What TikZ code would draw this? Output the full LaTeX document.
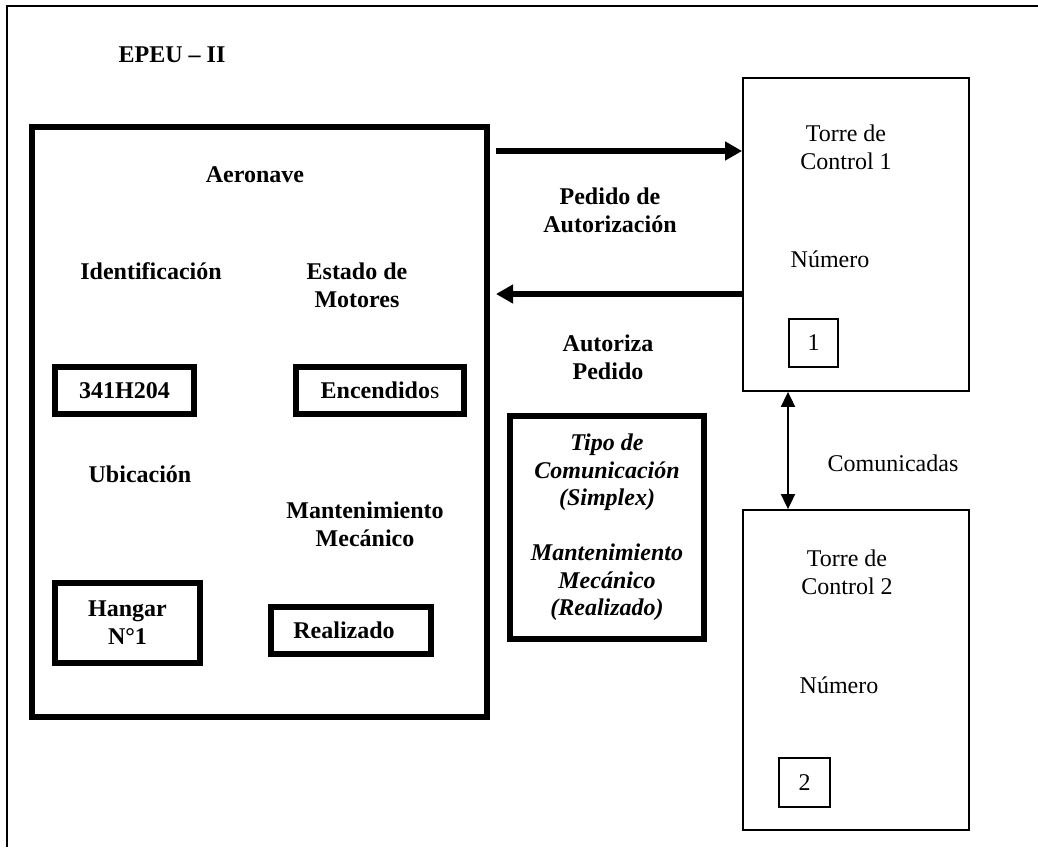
\documentclass[tikz,border=0pt]{standalone}
\usepackage{fontspec}
\setmainfont{Liberation Serif}
\usetikzlibrary{arrows.meta}

\begin{document}
\begin{tikzpicture}[x=0.5pt,y=-0.5pt,
    txt/.style={font=\fontsize{12}{14}\selectfont, align=center, inner sep=0pt},
    btxt/.style={txt, font=\fontsize{12}{14}\selectfont\bfseries},
    thickbox/.style={draw, line width=2.8pt, btxt},
    thinbox/.style={draw, line width=0.9pt, txt},
    numbox/.style={draw, line width=0.8pt, txt, minimum width=24.5pt, minimum height=24pt},
    bigarrow/.style={line width=2.6pt, -{Triangle[length=8.5pt,width=9pt]}},
    thinarrow/.style={line width=0.9pt, {Triangle[length=7.5pt,width=7pt]}-{Triangle[length=7.5pt,width=7pt]}}]
                \useasboundingbox (0,0) rectangle (1038,847);
                \draw[line width=1pt] (1038,6) -- (7,6) -- (7,847);

                \node[btxt] (epeu) at (172,55) {EPEU -- II};

                \node[thickbox, minimum width=227.5pt, minimum height=295pt] (aero) at (259.5,422) {};
                \node[btxt] (aerot) at (255,175) {Aeronave};
                \node[btxt] (ident) at (151,271) {Identificación};
                \node[btxt] (estado) at (357,285) {Estado de\\Motores};
                \node[thickbox, minimum width=69.5pt, minimum height=23.5pt] (matric) at (124.5,390.5) {341H204};
                \node[thickbox, minimum width=84pt, minimum height=23.5pt] (motores) at (380,390.5) {Encendido\textmd{s}};
                \node[btxt] (ubic) at (140,474) {Ubicación};
                \node[btxt] (mant) at (365,524) {Mantenimiento\\Mecánico};
                \node[thickbox, minimum width=72.5pt, minimum height=40pt] (hangar) at (127.5,623) {Hangar\\N°1};
                \node[thickbox, minimum width=80pt, minimum height=23.5pt] (realiz) at (351,630.5) {Realizado\hspace*{7pt}};

                \node[thickbox, minimum width=97pt, minimum height=111.5pt, font=\fontsize{12}{13.75}\selectfont\bfseries\itshape] (tipo) at (607,527.5)
                    {Tipo de\\Comunicación\\(Simplex)\\[13.75pt]Mantenimiento\\Mecánico\\(Realizado)};

                \node[btxt] (pedido) at (610,210) {Pedido de\\Autorización};
                \node[btxt] (autoriza) at (608,357) {Autoriza\\Pedido};

                \node[thinbox, minimum width=113pt, minimum height=156.5pt] (torre1) at (856,234.5) {};
                \node[txt] (torre1t) at (846,147) {Torre de\\Control 1};
                \node[txt] (num1) at (830,259) {Número};
                \node[numbox] (n1) at (813.5,343) {1};

                \node[thinbox, minimum width=113pt, minimum height=160pt] (torre2) at (856,670) {};
                \node[txt] (torre2t) at (847,572) {Torre de\\Control 2};
                \node[txt] (num2) at (839,685) {Número};
                \node[numbox, minimum width=25.5pt, minimum height=24.5pt] (n2) at (804.5,782.5) {2};

                \node[txt] (comun) at (893,463) {Comunicadas};

                \coordinate (ida) at (496,151);
                \coordinate (vuelta) at (496,294);
                \coordinate (enlace) at (788,0);
                \draw[bigarrow] (ida) -- (ida -| torre1.west);
                \draw[bigarrow] (vuelta -| torre1.west) -- (vuelta);
                \draw[thinarrow] (torre1.south -| enlace) -- (torre2.north -| enlace);
\end{tikzpicture}
\end{document}
